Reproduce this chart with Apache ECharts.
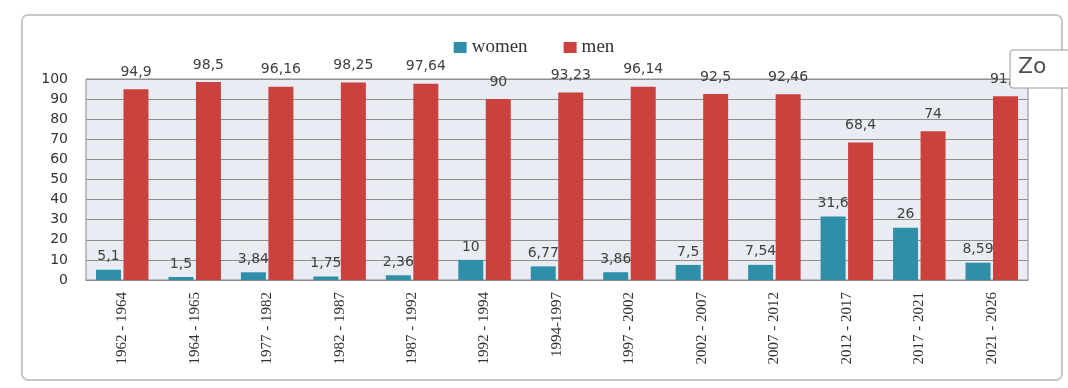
<!DOCTYPE html>
<html><head><meta charset="utf-8">
<script src="https://cdn.jsdelivr.net/npm/echarts@6/dist/echarts.min.js"></script>
<style>html,body{margin:0;padding:0;background:#fff}#c{width:1068px;height:388px}</style>
</head><body><div id="c"></div>
<script>
const categories = ["1962 - 1964","1964 - 1965","1977 - 1982","1982 - 1987","1987 - 1992","1992 - 1994","1994-1997","1997 - 2002","2002 - 2007","2007 - 2012","2012 - 2017","2017 - 2021","2021 - 2026"];
const women = [5.1,1.5,3.84,1.75,2.36,10,6.77,3.86,7.5,7.54,31.6,26,8.59];
const men = [94.9,98.5,96.16,98.25,97.64,90,93.23,96.14,92.5,92.46,68.4,74,91.4];
const yTicks = [0,10,20,30,40,50,60,70,80,90,100];

const chart = echarts.init(document.getElementById('c'));
const lbl = {show:true, position:'top', distance:6, color:'#404040', fontSize:14, fontFamily:'DejaVu Sans',
  formatter:p=>String(p.value).replace('.',',')};
chart.setOption({
  animation:false,
  graphic:[
    {type:'rect', shape:{x:22,y:15,width:1040,height:365,r:6}, style:{fill:'#fff',stroke:'#c8c8c8',lineWidth:2}, z:-10},
    {type:'rect', shape:{x:1010,y:50,width:70,height:38,r:3}, style:{fill:'#fff',stroke:'#9a9a9a',lineWidth:1}, z:100},
    {type:'text', left:1018, top:56, style:{text:'Zo', fontSize:22, fill:'#505050', fontFamily:'DejaVu Sans'}, z:101}
  ],
  legend:{top:33, left:'center', icon:'rect', itemWidth:13, itemHeight:11, itemGap:36,
    textStyle:{fontFamily:'Liberation Serif', fontSize:19, color:'#333'},
    data:['women','men']},
  grid:{left:86, right:40, top:79, bottom:108, show:true, backgroundColor:'#e9edf3', borderColor:'#8a8a8a', borderWidth:1},
  xAxis:{type:'category', data:categories,
    axisLine:{show:true, lineStyle:{color:'#8a8a8a'}}, axisTick:{show:false},
    axisLabel:{rotate:90, interval:0, fontFamily:'Liberation Serif', fontSize:15, color:'#333', margin:12}},
  yAxis:{type:'value', min:0, max:100, interval:10,
    axisLine:{show:false}, axisTick:{show:false},
    splitLine:{lineStyle:{color:'#8f8f8f', width:1}},
    axisLabel:{fontFamily:'DejaVu Sans', fontSize:14, color:'#333', margin:18,
      formatter:v=>yTicks.includes(v)?String(v):''}},
  series:[
    {name:'women', type:'bar', data:women, barWidth:25, barGap:'10%', itemStyle:{color:'#2f8fa9'}, label:lbl},
    {name:'men', type:'bar', data:men, barWidth:25, itemStyle:{color:'#cb413d'}, label:Object.assign({},lbl,{distance:10})}
  ]
});
</script></body></html>
